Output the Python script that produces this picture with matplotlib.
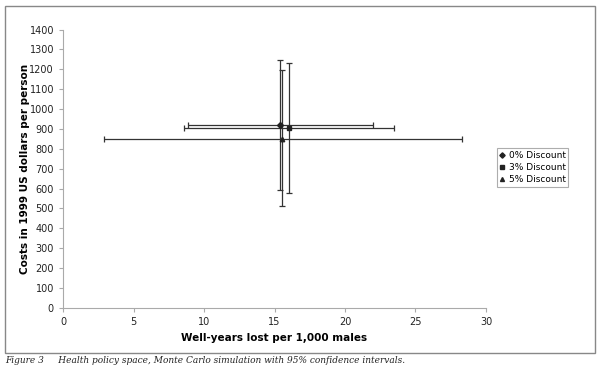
import numpy as np
import matplotlib
matplotlib.use('Agg')
import matplotlib.pyplot as plt
from matplotlib.patches import Rectangle

plt.rcParams['font.family'] = ['DejaVu Sans']

# 할인율별 결과 (well-years lost, cost) 와 95% 신뢰구간
labels = ['0% Discount', '3% Discount', '5% Discount']
markers = ['D', 's', '^']
x_mean = [15.4, 16.0, 15.55]
x_low = [8.9, 8.6, 2.9]
x_high = [22.0, 23.5, 28.3]
y_mean = [918, 906, 851]
y_low = [594, 580, 510]
y_high = [1245, 1232, 1195]

fig = plt.figure(figsize=(6, 3.7), dpi=100)
ax = fig.add_axes([0.105, 0.168, 0.705, 0.752])

for i in range(3):
    xerr = [[x_mean[i] - x_low[i]], [x_high[i] - x_mean[i]]]
    yerr = [[y_mean[i] - y_low[i]], [y_high[i] - y_mean[i]]]
    ax.errorbar([x_mean[i]], [y_mean[i]], xerr=xerr, yerr=yerr,
                fmt=markers[i], color='#222222', ms=3.2 if i != 0 else 3,
                ecolor='#333333', elinewidth=0.9, capsize=2.5, capthick=0.9,
                label=labels[i])

ax.set_xlim(0, 30)
ax.set_ylim(0, 1400)
ax.set_xticks(np.arange(0, 31, 5))
ax.set_yticks(np.arange(0, 1401, 100))
ax.tick_params(labelsize=7, length=3, colors='#222222')
ax.tick_params(axis='both', which='both', color='#aaaaaa')
for side in ['top', 'right']:
    ax.spines[side].set_visible(False)
for side in ['left', 'bottom']:
    ax.spines[side].set_color('#aaaaaa')
    ax.spines[side].set_linewidth(0.8)

ax.set_xlabel('Well-years lost per 1,000 males', fontsize=7.5, fontweight='bold')
ax.set_ylabel('Costs in 1999 US dollars per person', fontsize=7.5, fontweight='bold')
ax.xaxis.set_label_coords(0.5, -0.09)
ax.yaxis.set_label_coords(-0.078, 0.5)

handles, labs = ax.get_legend_handles_labels()
handles = [h[0] for h in handles]
leg = ax.legend(handles, labs, loc='upper left', bbox_to_anchor=(1.015, 0.59),
                fontsize=6.5, frameon=True, fancybox=False, handlelength=0.6,
                handletextpad=0.4, borderpad=0.3, labelspacing=0.35, markerscale=0.9)
leg.get_frame().set_edgecolor('#999999')
leg.get_frame().set_linewidth(0.8)

# 바깥 테두리
fig.patches.append(Rectangle((0.008, 0.045), 0.984, 0.94, transform=fig.transFigure,
                             fill=False, edgecolor='#888888', linewidth=1.0))

fig.text(0.008, 0.018, 'Figure 3     Health policy space, Monte Carlo simulation with 95% confidence intervals.',
         fontsize=6.5, style='italic', family='DejaVu Serif', color='#222222')

plt.savefig('out.png', dpi=100)
